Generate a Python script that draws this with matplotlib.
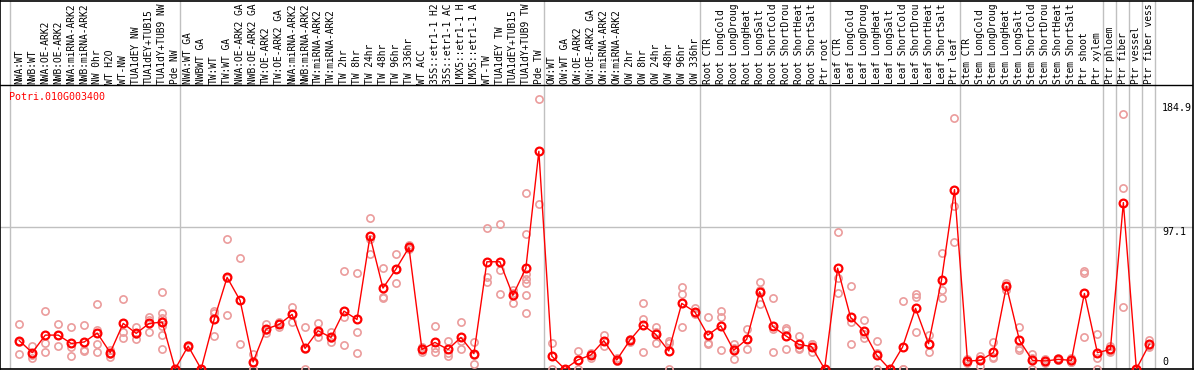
import numpy as np
import matplotlib
matplotlib.use("Agg")
import matplotlib.pyplot as plt

gen = "Potri.010G003400"

muestras = ["NWA:WT", "NWB:WT", "NWA:OE-ARK2", "NWB:OE-ARK2", "NWA:miRNA-ARK2",
            "NWB:miRNA-ARK2", "NW 0hr", "WT H2O", "WT-NW", "TUA1dEY NW",
            "TUA1dEY+TUB15 NW", "TUA1dY+TUB9 NW", "Pde NW", "NWA:WT GA", "NWBWT GA",
            "TW:WT", "TW:WT GA", "NWA:OE-ARK2 GA", "NWB:OE-ARK2 GA", "TW:OE-ARK2",
            "TW:OE-ARK2 GA", "NWA:miRNA-ARK2 GA", "NWB:miRNA-ARK2 GA", "TW:miRNA-ARK2",
            "TW:miRNA-ARK2 GA", "TW 2hr", "TW 8hr", "TW 24hr", "TW 48hr", "TW 96hr",
            "TW 336hr", "WT ACC", "35S::etr1-1 H2O", "35S::etr1-1 ACC",
            "LMX5::etr1-1 H2O", "LMX5::etr1-1 ACC", "WT-TW", "TUA1dEY TW",
            "TUA1dEY+TUB15 TW", "TUA1dY+TUB9 TW", "Pde TW", "OW:WT", "OW:WT GA",
            "OW:OE-ARK2", "OW:OE-ARK2 GA", "OW:miRNA-ARK2", "OW:miRNA-ARK2 GA",
            "OW 2hr", "OW 8hr", "OW 24hr", "OW 48hr", "OW 96hr", "OW 336hr",
            "Root CTR", "Root LongCold", "Root LongDrought", "Root LongHeat",
            "Root LongSalt", "Root ShortCold", "Root ShortDrought", "Root ShortHeat",
            "Root ShortSalt", "Ptr root", "Leaf CTR", "Leaf LongCold",
            "Leaf LongDrought", "Leaf LongHeat", "Leaf LongSalt", "Leaf ShortCold",
            "Leaf ShortDrought", "Leaf ShortHeat", "Leaf ShortSalt", "Ptr leaf",
            "Stem CTR", "Stem LongCold", "Stem LongDrought", "Stem LongHeat",
            "Stem LongSalt", "Stem ShortCold", "Stem ShortDrought", "Stem ShortHeat",
            "Stem ShortSalt", "Ptr shoot", "Ptr xylem", "Ptr phloem", "Ptr fiber",
            "Ptr vessel", "Ptr fiber vessel"]

# promedio por muestra
media = [19.4, 11.2, 23.2, 23.2, 17.5, 18.5, 24.6, 11.2, 31.2, 24.4,
         31.2, 32.1, 0, 15.7, 0, 33.9, 62.7, 46.9, 4.8, 27.3,
         30.5, 37.4, 14.1, 26.2, 21.6, 39.6, 33.9, 90.9, 55.4, 68.4,
         83.2, 13.4, 18.2, 13.4, 21.6, 10.5, 73.4, 73.4, 50.4, 69.0,
         149.0, 8.7, 0, 6.2, 9.6, 19.4, 6.2, 19.6, 30.1, 23.7,
         12.3, 44.9, 39.2, 23.2, 29.6, 12.8, 20.3, 52.9, 29.2, 22.8,
         16.9, 15.3, 0, 69.0, 35.3, 26.2, 9.6, 0, 15.0, 41.5,
         17.3, 60.8, 122.8, 5.5, 5.9, 11.4, 56.7, 19.6, 5.9, 5.5,
         6.6, 5.9, 51.7, 11.2, 13.4, 113.9, 0, 16.9]

# replicas por muestra
replicas = [[30.8, 18.5, 10.0], [15.7, 9.8, 7.7], [39.4, 17.5, 11.4], [30.8, 23.2, 15.7],
            [28.7, 15.0, 8.9], [30.1, 13.0, 12.1], [44.4, 26.7, 16.9, 11.4], [13.0, 10.0, 8.4],
            [47.6, 25.5, 21.0], [28.7, 23.9, 20.7], [35.3, 33.5, 25.1],
            [52.4, 38.0, 35.1, 29.4, 23.2, 13.4], [0, 0, 0], [16.5, 15.7, 14.9], [0, 0, 0],
            [39.9, 38.5, 22.6], [88.9, 62.3, 36.9], [76.3, 47.3, 17.1], [10.5, 3.9, 0],
            [30.8, 26.8, 24.4], [32.4, 30.5, 28.5], [42.4, 37.4, 32.4], [28.7, 13.6, 0],
            [31.4, 25.6, 21.6], [25.5, 21.1, 18.2], [67.4, 35.3, 16.4], [65.4, 25.5, 10.9],
            [103.7, 88.9, 78.4], [69.0, 49.0, 48.3], [78.4, 68.2, 58.6], [85.2, 82.5, 81.9],
            [15.3, 13.1, 11.8], [29.6, 14.1, 11.4], [19.1, 11.2, 8.9], [31.9, 19.4, 13.4],
            [18.5, 9.8, 3.2], [96.2, 63.1, 59.7], [99.1, 68.1, 51.0], [54.0, 51.8, 45.3],
            [120.8, 92.3, 64.9, 61.7, 58.6, 50.6, 38.5], [184.9, 113.2], [17.5, 8.7, 0],
            [0, 0, 0], [12.3, 6.2, 0], [10.7, 10.3, 7.7], [23.2, 19.1, 15.9], [7.7, 5.5, 5.5],
            [20.5, 19.6, 18.7], [44.9, 33.9, 11.4], [28.7, 25.0, 17.5], [19.4, 17.5, 0],
            [55.8, 51.0, 28.5], [41.5, 38.5, 37.6], [35.3, 17.5, 16.9], [39.6, 35.3, 12.8],
            [17.3, 14.3, 6.8], [27.3, 20.2, 13.4], [59.5, 54.4, 44.7], [48.3, 27.6, 11.6],
            [28.3, 26.7, 13.4], [22.6, 14.1, 14.0], [17.1, 16.9, 11.8], [0, 0, 0],
            [93.6, 62.4, 51.7], [56.7, 32.4, 17.1], [33.3, 24.3, 21.0], [19.1, 11.2, 0],
            [0, 0, 0], [46.5, 0, 0], [51.0, 49.4, 25.1], [23.2, 17.3, 11.4],
            [79.1, 54.0, 48.3], [171.6, 111.4, 86.6], [6.8, 5.7, 3.9], [9.1, 6.8, 1.8],
            [18.5, 8.4, 7.3], [59.0, 57.0, 54.0], [28.7, 14.6, 13.0], [10.0, 7.7, 0],
            [6.8, 5.7, 3.9], [7.7, 6.2, 5.9], [7.7, 5.0, 5.0], [67.0, 66.0, 22.1],
            [23.9, 7.3, 0], [15.9, 12.5, 11.8], [174.8, 124.2, 42.4], [0, 0, 0],
            [19.8, 15.6, 15.3]]

# separadores de grupos (entre muestras)
separadores = [-0.7, 12.4, 40.4, 52.4, 62.4, 72.4, 83.4, 84.4, 85.4, 86.4, 87.4]

maximo = max(max(r) for r in replicas)
ytop = maximo * 1.05          # tope del area de datos
escala = 284 / ytop            # pixeles por unidad
ylim_total = 369 / escala      # incluye la franja de etiquetas

plt.rcParams['font.family'] = ['DejaVu Sans Mono']
fig = plt.figure(figsize=(11.94, 3.70), dpi=100)
ax = fig.add_axes([0, 1 / 370, 1 - 1 / 1194, 368.5 / 370])

x = np.arange(len(muestras))

# lineas de la grilla
for s in separadores:
    ax.axvline(s, color='#c0c0c0', lw=1, zorder=1)
ax.axhline(ytop / 2, color='#c0c0c0', lw=1, zorder=1)
ax.axhline(ytop, color='black', lw=1, zorder=2)

# replicas
xr = []
yr = []
for i, r in enumerate(replicas):
    for v in r:
        xr.append(i)
        yr.append(v)
ax.plot(xr, yr, 'o', ms=5.2, mfc='none', mec='#eb9c9c', mew=1.2, zorder=3)

# media
ax.plot(x, media, '-', color='red', lw=1, zorder=4)
ax.plot(x, media, 'o', ms=5.6, mfc='none', mec='red', mew=1.6, zorder=5)

# etiquetas de muestras (se cortan a 14 caracteres como en el original)
for i, m in enumerate(muestras):
    ax.text(i, ytop + 1.0, m[:14].rstrip(), rotation=90, ha='center', va='bottom',
            fontsize=6.9, color='black', zorder=6)

ax.text(9.5 / 1194, (369 - 97) / escala, gen, transform=ax.get_yaxis_transform(),
        color='red', fontsize=7.2, ha='left', va='center')

# escala a la derecha
ax.text(1163 / 1194, (369 - 107.7) / escala, "%.1f" % maximo,
        transform=ax.get_yaxis_transform(), fontsize=7.2, va='center', ha='left')
ax.text(1163 / 1194, (369 - 232) / escala, "%.1f" % (ytop / 2),
        transform=ax.get_yaxis_transform(), fontsize=7.2, va='center', ha='left')
ax.text(1163 / 1194, (369 - 361.7) / escala, "0",
        transform=ax.get_yaxis_transform(), fontsize=7.2, va='center', ha='left')

ax.set_xlim(-19.3 / 13, (1194 - 19.3) / 13)
ax.set_ylim(0, ylim_total)
ax.set_xticks([])
ax.set_yticks([])
for sp in ax.spines.values():
    sp.set_color('black')
    sp.set_linewidth(1.2)

plt.savefig("out.png", dpi=100)
